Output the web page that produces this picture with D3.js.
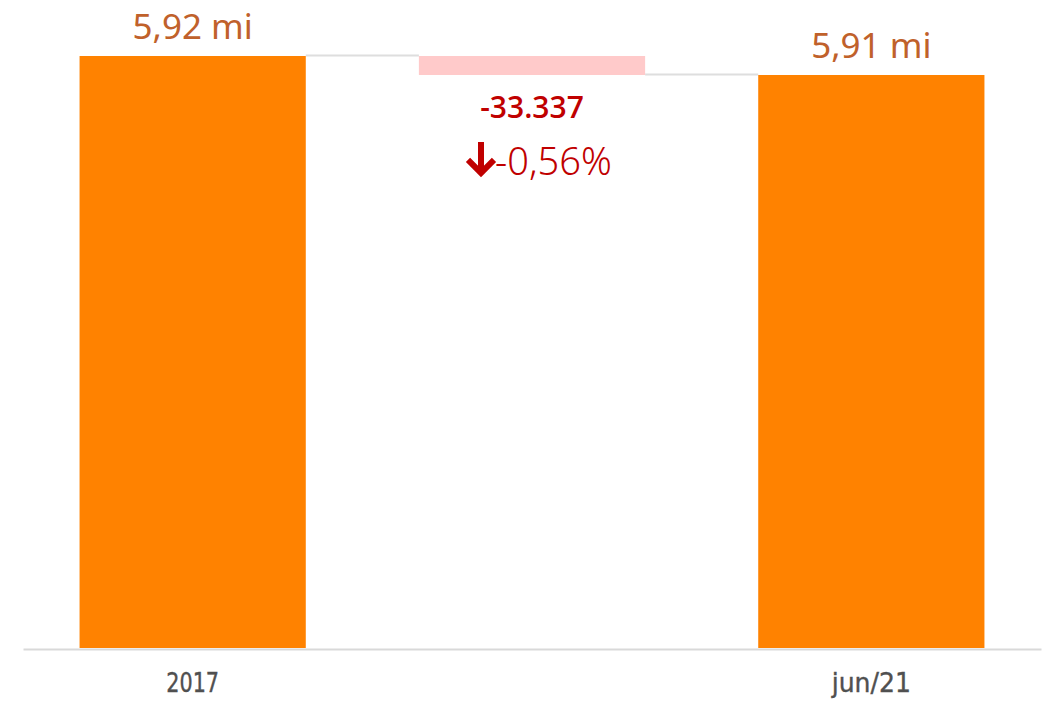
<!DOCTYPE html>
<html>
<head>
<meta charset="utf-8">
<script src="https://cdn.jsdelivr.net/npm/d3@7"></script>
<style>
  html, body { margin: 0; padding: 0; background: #fff; }
</style>
</head>
<body>
<div id="chart"></div>
<script>
// chart data
var categories = ["2017", "delta", "jun/21"];
var tickLabels = ["2017", "", "jun/21"];
var startValue = 5920000;
var deltaValue = -33337;
var valueLabels = ["5,92 mi", "-33.337", "5,91 mi"];
var pctLabel = "-0,56%";
var axisStart = 4881000;

var svgWidth = 1046;
var svgHeight = 701;

var svg = d3.select("#chart")
  .append("svg")
  .attr("width", svgWidth)
  .attr("height", svgHeight);

var endValue = startValue + deltaValue;

// waterfall steps: [from, to]
var steps = [
  { cat: categories[0], y0: axisStart, y1: startValue, kind: "total" },
  { cat: categories[1], y0: endValue, y1: startValue, kind: "delta" },
  { cat: categories[2], y0: axisStart, y1: endValue, kind: "total" }
];

var x = d3.scaleBand()
  .domain(categories)
  .range([23, 1041])
  .paddingInner(1 / 3)
  .paddingOuter(1 / 6);

var y = d3.scaleLinear()
  .domain([axisStart, startValue])
  .range([648, 56]);

// connector lines
svg.append("g")
  .selectAll("line")
  .data(steps.slice(0, -1))
  .enter()
  .append("line")
  .attr("x1", d => x(d.cat) + x.bandwidth())
  .attr("x2", (d, i) => x(steps[i + 1].cat))
  .attr("y1", (d, i) => y(i === 0 ? startValue : endValue) - 0.5)
  .attr("y2", (d, i) => y(i === 0 ? startValue : endValue) - 0.5)
  .attr("stroke", "#dedede")
  .attr("stroke-width", 2);

// bars
svg.append("g")
  .selectAll("rect")
  .data(steps)
  .enter()
  .append("rect")
  .attr("x", d => x(d.cat))
  .attr("width", x.bandwidth())
  .attr("y", d => y(d.y1))
  .attr("height", d => y(d.y0) - y(d.y1))
  .attr("fill", d => d.kind === "total" ? "#ff8200" : "#ffcaca");

// x axis
var xAxis = svg.append("g")
  .attr("transform", "translate(0, 649)")
  .call(d3.axisBottom(x)
    .tickSize(0)
    .tickPadding(24)
    .tickFormat((d, i) => tickLabels[i]));

xAxis.select(".domain")
  .attr("stroke", "#d9d9d9")
  .attr("stroke-width", 2);

// narrow, condensed tick labels
xAxis.selectAll(".tick text")
  .attr("font-family", "'DejaVu Sans', sans-serif")
  .attr("font-size", 27)
  .attr("fill", "#505050")
  .attr("stroke", "#505050")
  .attr("stroke-width", 0.4)
  .attr("textLength", (d, i) => tickLabels[i] ? tickLabels[i].length * 13.2 : null)
  .attr("lengthAdjust", "spacingAndGlyphs");

// total labels
svg.append("g")
  .selectAll("text")
  .data(steps.filter(d => d.kind === "total"))
  .enter()
  .append("text")
  .attr("x", d => x(d.cat) + x.bandwidth() / 2)
  .attr("y", d => y(d.y1) - 17)
  .attr("text-anchor", "middle")
  .attr("font-family", "'Noto Sans', 'Open Sans', sans-serif")
  .attr("font-size", 35)
  .attr("fill", "#c0612b")
  .text(d => valueLabels[categories.indexOf(d.cat)]);

// delta labels
var deltaStep = steps[1];
var cx = x(deltaStep.cat) + x.bandwidth() / 2;
var base = y(deltaStep.y0);

svg.append("text")
  .attr("x", cx)
  .attr("y", base + 43)
  .attr("text-anchor", "middle")
  .attr("font-family", "'Open Sans', 'Noto Sans', sans-serif")
  .attr("font-weight", 600)
  .attr("font-size", 30)
  .attr("fill", "#c00000")
  .text(valueLabels[1]);

// down arrow icon
svg.append("path")
  .attr("d", `M${cx - 51},${base + 67}V${base + 97}M${cx - 64},${base + 85}L${cx - 51},${base + 98}L${cx - 38},${base + 85}`)
  .attr("fill", "none")
  .attr("stroke", "#c00000")
  .attr("stroke-width", 6);

svg.append("text")
  .attr("x", cx - 37)
  .attr("y", base + 100)
  .attr("font-family", "'Noto Sans', 'Open Sans', sans-serif")
  .attr("font-weight", 300)
  .attr("font-size", 38)
  .attr("fill", "#c00000")
  .text(pctLabel);
</script>
</body>
</html>
